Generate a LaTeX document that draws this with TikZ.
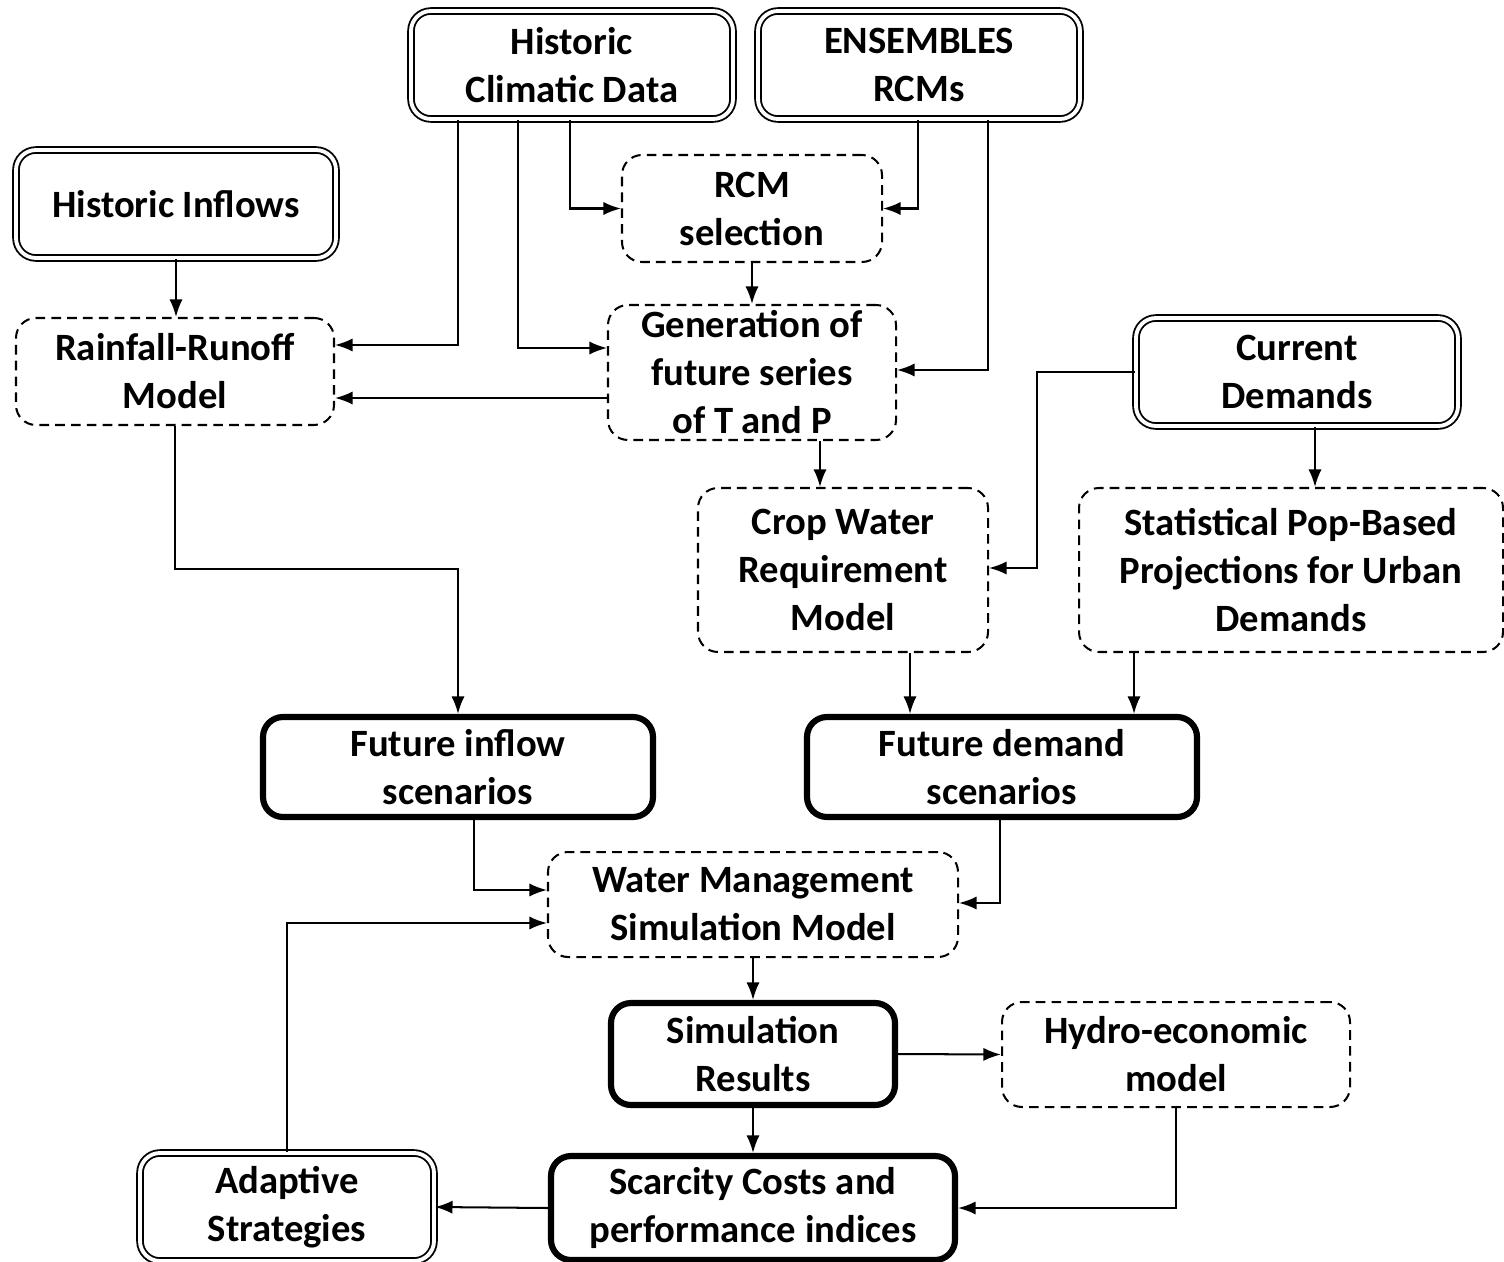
\documentclass[tikz,border=0pt]{standalone}
\usepackage{fontspec}
\setmainfont{Carlito}
\usetikzlibrary{arrows.meta, calc}

% Sizes given in pixels of the layout grid
\tikzset{sz/.style 2 args={minimum width=#1*0.02cm, minimum height=#2*0.02cm}}

\begin{document}
\begin{tikzpicture}[
		x=0.02cm, y=-0.02cm,
		% Node styles
		box/.style={rounded corners=0.4cm, align=center, inner sep=0pt,
			font=\bfseries\fontsize{22}{27.3}\selectfont},
		srcbox/.style={box, draw, double, line width=1.05pt, double distance=2.2pt},
		procbox/.style={box, draw, dash pattern=on 5.5pt off 3.5pt, line width=1.15pt},
		outbox/.style={box, draw, line width=3.5pt},
		% Connectors
		arr/.style={-{Latex[length=10pt, width=7.5pt]}, line width=1.15pt}
		]
		\useasboundingbox (0,0) rectangle (1504,1261);
		
		% --- Inputs ---
		\node[srcbox, sz={322}{108}] (hcd) at (572,65) {Historic\\Climatic Data};
		\node[srcbox, sz={322}{108}] (ens) at (919,65) {ENSEMBLES\\RCMs};
		\node[srcbox, sz={320}{108}] (hin) at (176,204) {Historic Inflows};
		\node[srcbox, sz={322}{108}] (cd) at (1297,372) {Current\\Demands};
		
		% --- Models ---
		\node[procbox, sz={260}{107}] (rcm) at (752,208.5) {RCM\\selection};
		\node[procbox, sz={318}{107}] (rr) at (175,371.5) {Rainfall-Runoff\\Model};
		\node[procbox, sz={288}{135}] (gen) at (752,372.5) {Generation of\\future series\\of T and P};
		\node[procbox, sz={290}{164}] (crop) at (843,570) {Crop Water\\Requirement\\Model};
		\node[procbox, sz={424}{164}] (stat) at (1291,570) {Statistical Pop-Based\\Projections for Urban\\Demands};
		
		% --- Scenarios and results ---
		\node[outbox, sz={390}{100}] (fi) at (458,767) {Future inflow\\scenarios};
		\node[outbox, sz={390}{100}] (fd) at (1002,767) {Future demand\\scenarios};
		\node[procbox, sz={410}{105}] (wms) at (753,904.5) {Water Management\\Simulation Model};
		\node[outbox, sz={284}{102}] (sr) at (753,1054) {Simulation\\Results};
		\node[procbox, sz={348}{105}] (hyd) at (1176,1054.5) {Hydro-economic\\model};
		\node[outbox, sz={404}{104}] (sc) at (753,1208) {Scarcity Costs and\\performance indices};
		\node[srcbox, sz={294}{108}] (ad) at (287,1207) {Adaptive\\Strategies};
		
		% --- Connectors ---
		\draw[arr] ($(hcd.south)+(-114,0)$) |- ($(rr.east)+(0,-26.5)$);
		\draw[arr] ($(hcd.south)+(-54,0)$) |- ($(gen.west)+(0,-24.5)$);
		\draw[arr] ($(hcd.south)+(-2,0)$) |- (rcm.west);
		\draw[arr] ($(ens.south)+(-1,0)$) |- (rcm.east);
		\draw[arr] ($(ens.south)+(69,0)$) |- ($(gen.east)+(0,-2.5)$);
		\draw[arr] (rcm.south) -- (gen.north);
		\draw[arr] ($(gen.west)+(0,25.5)$) -- ($(rr.east)+(0,26.5)$);
		\draw[arr] (hin.south) -- (hin.south |- rr.north);
		\draw[arr] (rr.south) -- ++(0,143) -| (fi.north);
		\draw[arr] ($(gen.south)+(68,0)$) -- ($(crop.north)+(-23,0)$);
		\draw[arr] (cd.west) -- ++(-98,0) |- ($(crop.east)+(0,-2)$);
		\draw[arr] ($(cd.south)+(18,0)$) -- ($(stat.north)+(24,0)$);
		\draw[arr] ($(crop.south)+(67,0)$) -- ($(fd.north)+(-92,0)$);
		\draw[arr] ($(stat.south)+(-157,0)$) -- ($(fd.north)+(132,0)$);
		\draw[arr] ($(fi.south)+(16,0)$) |- ($(wms.west)+(0,-14.5)$);
		\draw[arr] ($(fd.south)+(-2,0)$) |- ($(wms.east)+(0,-1.5)$);
		\draw[arr] (ad.north) |- ($(wms.west)+(0,18.5)$);
		\draw[arr] (wms.south) -- (sr.north);
		\draw[arr] (sr.east) -- (hyd.west);
		\draw[arr] (sr.south) -- (sc.north);
		\draw[arr] (hyd.south) |- (sc.east);
		\draw[arr] (sc.west) -- (ad.east);
		
	\end{tikzpicture}
\end{document}
